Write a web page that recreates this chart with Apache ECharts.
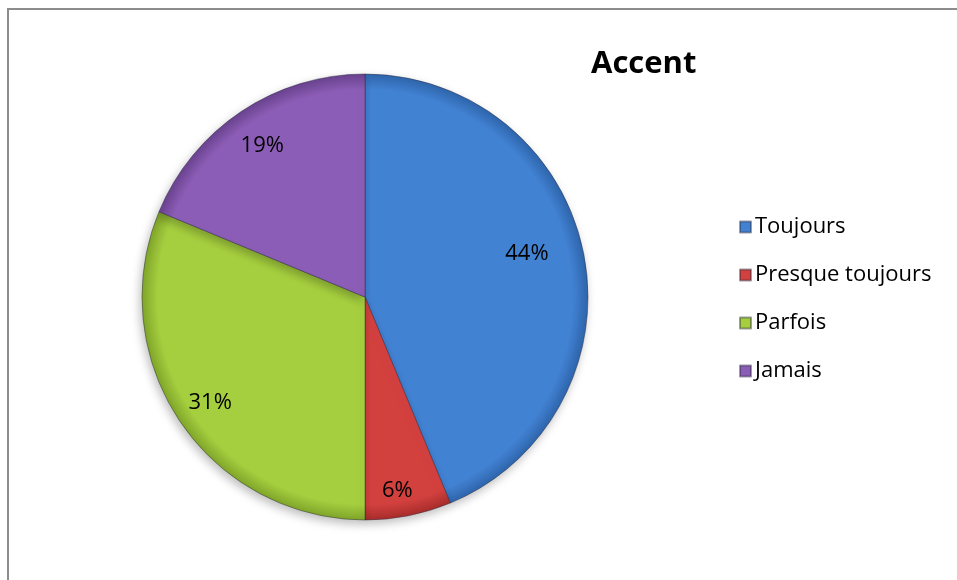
<!DOCTYPE html>
<html>
<head>
<meta charset="utf-8">
<script src="https://cdn.jsdelivr.net/npm/echarts@6/dist/echarts.min.js"></script>
<style>
html,body{margin:0;padding:0;background:#fff;}
#chart{width:957px;height:580px;}
</style>
</head>
<body>
<div id="chart"></div>
<script>
var titleText = 'Accent';
var categories = ['Toujours', 'Presque toujours', 'Parfois', 'Jamais'];
var values = [14, 2, 10, 6];
var colors = ['#4282d3', '#d3413f', '#a6cf3f', '#8c5db6'];
var edgeColors = ['#2f66ad', '#a82d2b', '#80a52a', '#6a4390'];
var labelOffsets = [[-16, -8], [-3, 16], [-4, 5], [-2, 0]];

var R = 223;
var center = [365, 297];

function grad(i) {
  return {
    type: 'radial', x: center[0], y: center[1], r: R, global: true,
    colorStops: [
      { offset: 0, color: colors[i] },
      { offset: 0.93, color: colors[i] },
      { offset: 1, color: edgeColors[i] }
    ]
  };
}

var chart = echarts.init(document.getElementById('chart'));
var data = categories.map(function (c, i) {
  return { name: c, value: values[i], itemStyle: { color: grad(i) } };
});
chart.setOption({
  animation: false,
  backgroundColor: '#ffffff',
  color: colors,
  title: {
    text: titleText,
    left: 586, top: 44,
    textStyle: { fontFamily: 'Open Sans', fontWeight: 'bold', fontSize: 31, color: '#000' }
  },
  legend: {
    orient: 'vertical',
    left: 734, top: 211,
    itemWidth: 11, itemHeight: 11, itemGap: 26,
    icon: 'rect',
    data: categories.map(function (c, i) { return { name: c, itemStyle: { color: colors[i] } }; }),
    textStyle: { fontFamily: 'Open Sans', fontSize: 22, color: '#000', padding: [0, 0, 0, -1] }
  },
  graphic: [{
    type: 'rect',
    shape: { x: 8, y: 9, width: 1000, height: 1000 },
    style: { fill: 'none', stroke: '#8c8c8c', lineWidth: 2 },
    silent: true
  }],
  series: [{
    type: 'pie',
    center: center,
    radius: [0, R],
    startAngle: 90,
    clockwise: true,
    data: data,
    label: { show: false },
    labelLine: { show: false },
    itemStyle: {
      borderColor: 'rgba(40,40,60,0.45)', borderWidth: 1,
      shadowBlur: 10, shadowOffsetX: -2, shadowOffsetY: 4, shadowColor: 'rgba(0,0,0,0.25)'
    },
    emphasis: { disabled: true }
  }, {
    type: 'pie',
    center: center,
    radius: [R * 0.6, R],
    startAngle: 90,
    clockwise: true,
    silent: true,
    data: categories.map(function (c, i) {
      return { name: c, value: values[i], label: { offset: labelOffsets[i] } };
    }),
    itemStyle: { color: 'rgba(0,0,0,0)' },
    label: {
      show: true, position: 'inside',
      fontFamily: 'Open Sans', fontSize: 22, color: '#000',
      formatter: function (p) { return Math.round(p.percent) + '%'; }
    },
    labelLine: { show: false },
    emphasis: { disabled: true },
    legendHoverLink: false
  }]
});
</script>
</body>
</html>
